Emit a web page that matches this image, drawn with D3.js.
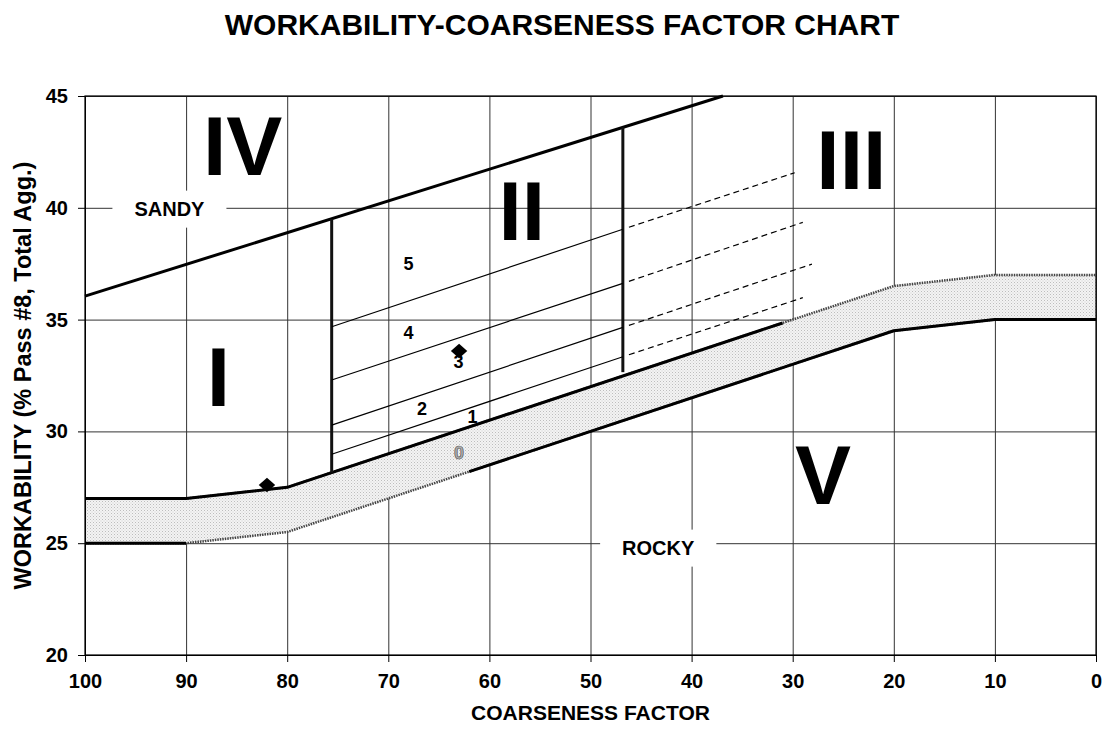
<!DOCTYPE html>
<html>
<head>
<meta charset="utf-8">
<script src="https://cdn.jsdelivr.net/npm/d3@7"></script>
<style>
  html, body { margin: 0; padding: 0; background: #fff; }
  svg { display: block; font-family: "Liberation Sans", Arial, Helvetica, sans-serif; }
</style>
</head>
<body>
<svg id="chart" width="1102" height="734"></svg>
<script>
// ---------- data ----------
const title = "WORKABILITY-COARSENESS FACTOR CHART";
const xTitle = "COARSENESS FACTOR";
const yTitle = "WORKABILITY (% Pass #8, Total Agg.)";
const xTicks = [100, 90, 80, 70, 60, 50, 40, 30, 20, 10, 0];
const yTicks = [20, 25, 30, 35, 40, 45];

// band boundaries (coarseness, workability)
const bandUpperX = [100, 90, 80, 20, 10, 0];
const bandUpperY = [27, 27, 27.5, 36.5, 37, 37];
const bandLowerX = [100, 90, 80, 20, 10, 0];
const bandLowerY = [25, 25, 25.5, 34.5, 35, 35];

// solid black overlay segments on band edges
const upperSolidX = [100, 90, 80, 31];
const upperSolidY = [27, 27, 27.5, 34.85];
const lowerSolidAX = [100, 90];
const lowerSolidAY = [25, 25];
const lowerSolidBX = [62, 20, 10, 0];
const lowerSolidBY = [28.2, 34.5, 35, 35];

// "sandy" limit line
const sandyX = [100, 36.9];
const sandyY = [36.05, 45];

// zone II vertical boundaries
const vertX = [75.6, 46.8];
const vertY0 = [28.16, 32.65];
const vertY1 = [39.5, 43.6];

// sub-zone lines inside zone II (solid) and their dashed extensions
const subStartX = 75.6, subEndX = 46.8;
const subStartY = [34.68, 32.3, 30.28, 28.98];
const subEndY = [39.04, 36.62, 34.65, 33.34];
const dashStartX = 46.2;
const dashStartY = [39.13, 36.71, 34.74, 33.43];
const dashEndX = [29.8, 29.0, 28.1, 29.0];
const dashEndY = [41.57, 39.35, 37.48, 35.98];

// data points
const pointX = [82, 63];
const pointY = [27.6, 33.6];

// sub-zone numbers
const numText = ["5", "4", "3", "2", "1", "0"];
const numX = [68.0, 68.0, 63.06, 66.67, 61.67, 63.0];
const numY = [37.5, 34.42, 33.12, 31.02, 30.66, 29.05];

// zone roman numerals
const zoneText = ["IV", "II", "III", "I", "V"];
const zoneX = [84.4, 56.8, 24.2, 86.8, 27.0];
const zoneY = [42.8, 39.9, 42.2, 32.47, 28.1];

// boxed labels
const boxText = ["SANDY", "ROCKY"];
const boxX = [91.65, 43.3];
const boxY = [39.94, 24.78];

// ---------- drawing ----------
const W = 1102, H = 734;
const m = { left: 85, right: 6, top: 96, bottom: 79 };
const svg = d3.select("#chart");

const x = d3.scaleLinear().domain([100, 0]).range([m.left, W - m.right]);
const y = d3.scaleLinear().domain([20, 45]).range([H - m.bottom, m.top]);

const defs = svg.append("defs");
const pat = defs.append("pattern").attr("id", "dots")
  .attr("patternUnits", "userSpaceOnUse").attr("width", 3).attr("height", 3);
pat.append("rect").attr("width", 3).attr("height", 3).attr("fill", "#f3f3f3");
pat.append("rect").attr("x", 0).attr("y", 0).attr("width", 1).attr("height", 1).attr("fill", "#bdbdbd");
pat.append("rect").attr("x", 1.5).attr("y", 1.5).attr("width", 1).attr("height", 1).attr("fill", "#d0d0d0");

// title
svg.append("text").attr("x", 562).attr("y", 35).attr("text-anchor", "middle")
  .attr("font-size", 30).attr("font-weight", "bold").text(title);

// gridlines
const g = svg.append("g");
g.append("g").attr("transform", `translate(0,${H - m.bottom})`)
  .call(d3.axisBottom(x).tickValues(xTicks).tickSize(-(H - m.top - m.bottom)).tickFormat(""))
  .call(s => s.select(".domain").remove())
  .call(s => s.selectAll("line").attr("stroke", "#333").attr("stroke-width", 1));
g.append("g").attr("transform", `translate(${m.left},0)`)
  .call(d3.axisLeft(y).tickValues(yTicks).tickSize(-(W - m.left - m.right)).tickFormat(""))
  .call(s => s.select(".domain").remove())
  .call(s => s.selectAll("line").attr("stroke", "#333").attr("stroke-width", 1));

// band
const bandPts = bandUpperX.map((d, i) => [d, bandUpperY[i]]);
const lowPts = bandLowerX.map((d, i) => [d, bandLowerY[i]]);
const area = d3.area().x(d => x(d[0])).y0(d => y(d[2])).y1(d => y(d[1]));
g.append("path").datum(bandPts.map((p, i) => [p[0], p[1], lowPts[i][1]]))
  .attr("d", area).attr("fill", "url(#dots)").attr("stroke", "none");

const line = d3.line().x(d => x(d[0])).y(d => y(d[1]));
const zip = (xs, ys) => xs.map((d, i) => [d, ys[i]]);

// patterned edges
g.append("path").datum(bandPts).attr("d", line).attr("fill", "none")
  .attr("stroke", "#444").attr("stroke-width", 2.5).attr("stroke-dasharray", "1.5,1");
g.append("path").datum(lowPts).attr("d", line).attr("fill", "none")
  .attr("stroke", "#444").attr("stroke-width", 2.5).attr("stroke-dasharray", "1.5,1");

// solid black edges
[[upperSolidX, upperSolidY], [lowerSolidAX, lowerSolidAY], [lowerSolidBX, lowerSolidBY], [sandyX, sandyY]]
  .forEach(([xs, ys]) => {
    g.append("path").datum(zip(xs, ys)).attr("d", line).attr("fill", "none")
      .attr("stroke", "#000").attr("stroke-width", 3).attr("stroke-linejoin", "round");
  });

// verticals
vertX.forEach((vx, i) => {
  g.append("path").datum([[vx, vertY0[i]], [vx, vertY1[i]]]).attr("d", line)
    .attr("stroke", "#111").attr("stroke-width", 3);
});

// sub-zone lines
subStartY.forEach((sy, i) => {
  g.append("path").datum([[subStartX, sy], [subEndX, subEndY[i]]]).attr("d", line)
    .attr("stroke", "#000").attr("stroke-width", 1.2);
  g.append("path").datum([[dashStartX, dashStartY[i]], [dashEndX[i], dashEndY[i]]]).attr("d", line)
    .attr("stroke", "#000").attr("stroke-width", 1.2).attr("stroke-dasharray", "6,4");
});

// boxed labels
boxText.forEach((t, i) => {
  const tx = x(boxX[i]), ty = y(boxY[i]);
  const tEl = svg.append("text").attr("x", tx).attr("y", ty + 7).attr("text-anchor", "middle")
    .attr("font-size", 20).attr("font-weight", "bold").text(t);
  const w = tEl.node().getComputedTextLength();
  svg.insert("rect", () => tEl.node()).attr("x", tx - w / 2 - 22).attr("y", ty - 18.5)
    .attr("width", w + 44).attr("height", 37).attr("fill", "#fff");
});

// plot border
svg.append("rect").attr("x", m.left).attr("y", m.top)
  .attr("width", W - m.left - m.right).attr("height", H - m.top - m.bottom)
  .attr("fill", "none").attr("stroke", "#000").attr("stroke-width", 1.2);

// axes with outside ticks
const xAxis = svg.append("g").attr("transform", `translate(0,${H - m.bottom})`)
  .call(d3.axisBottom(x).tickValues(xTicks).tickSize(7).tickPadding(12).tickFormat(d3.format("d")));
const yAxis = svg.append("g").attr("transform", `translate(${m.left},0)`)
  .call(d3.axisLeft(y).tickValues(yTicks).tickSize(7).tickPadding(10).tickFormat(d3.format("d")));
[xAxis, yAxis].forEach(a => {
  a.select(".domain").attr("stroke", "#000");
  a.selectAll("line").attr("stroke", "#000");
  a.selectAll("text").attr("font-size", 20).attr("font-weight", "bold")
    .attr("font-family", "'Liberation Sans', Arial, sans-serif").attr("fill", "#000");
});

// axis titles
svg.append("text").attr("x", x(50)).attr("y", 720).attr("text-anchor", "middle")
  .attr("font-size", 21).attr("font-weight", "bold").text(xTitle);
svg.append("text").attr("transform", `translate(31,${(m.top + H - m.bottom) / 2}) rotate(-90)`)
  .attr("text-anchor", "middle").attr("font-size", 23.5).attr("font-weight", "bold").text(yTitle);

// zone numerals
zoneText.forEach((t, i) => {
  svg.append("text").attr("x", x(zoneX[i])).attr("y", y(zoneY[i]) + 30)
    .attr("text-anchor", "middle").attr("font-size", 84).attr("font-weight", "bold").text(t);
});

// sub-zone numbers
numText.forEach((t, i) => {
  const el = svg.append("text").attr("x", x(numX[i])).attr("y", y(numY[i]) + 6.5)
    .attr("text-anchor", "middle").attr("font-size", 18).attr("font-weight", "bold").text(t);
  if (t === "0") el.attr("fill", "#b0b0b0").attr("stroke", "#555").attr("stroke-width", 0.7);
});

// diamonds (square rotated 45°)
svg.append("g").selectAll("path").data(zip(pointX, pointY)).join("path")
  .attr("transform", d => `translate(${x(d[0])},${y(d[1])}) scale(1,0.88) rotate(45)`)
  .attr("d", d3.symbol().type(d3.symbolSquare).size(135))
  .attr("fill", "#000");
</script>
</body>
</html>
